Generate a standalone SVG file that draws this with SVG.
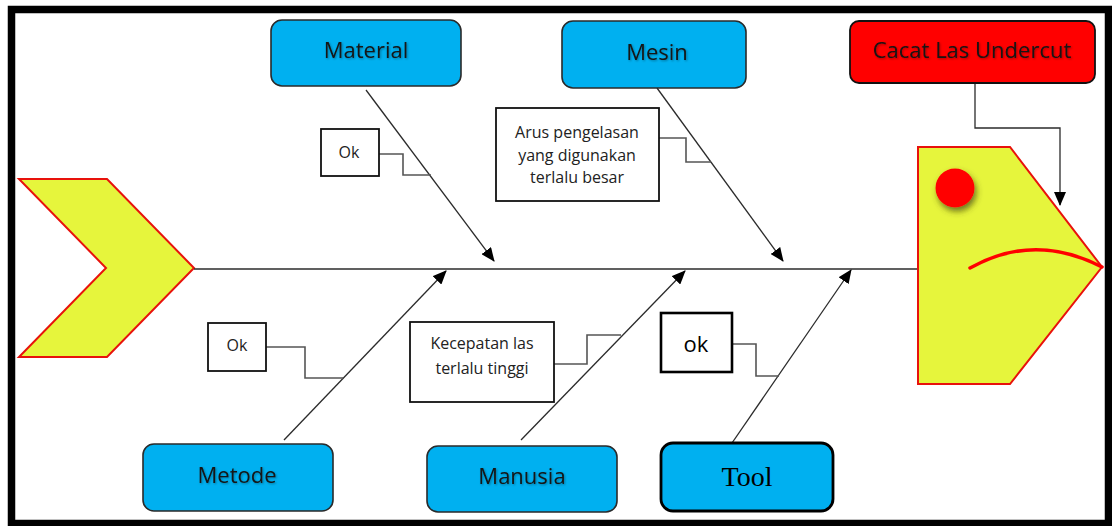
<svg xmlns="http://www.w3.org/2000/svg" width="1112" height="526" viewBox="0 0 1112 526">
  <style>
    .cat { fill: #00B0F0; stroke: #2a2a2a; stroke-width: 1.6; }
    .lbl { font-family: "Open Sans", "Noto Sans", sans-serif; font-size: 22px; fill: #141414; text-anchor: middle; }
    .note { fill: #ffffff; stroke: #111111; stroke-width: 1.8; }
    .ntx { font-family: "Open Sans", "Noto Sans", sans-serif; font-size: 16px; fill: #222222; text-anchor: middle; }
    .bone { fill: none; stroke: #2b2b2b; stroke-width: 1.3; }
    .tie { fill: none; stroke: #555555; stroke-width: 1.6; }
    .fish { fill: #E6F53C; stroke: #E8120C; stroke-width: 2; stroke-linejoin: miter; }
  </style>
  <defs>
    <marker id="arrow" markerUnits="userSpaceOnUse" markerWidth="14" markerHeight="12" refX="13" refY="6" orient="auto">
      <path d="M0,0 L14,6 L0,12 Z" fill="#000000"/>
    </marker>
    <filter id="soft" x="-20%" y="-20%" width="140%" height="160%">
      <feDropShadow dx="1" dy="1" stdDeviation="0.8" flood-color="#000000" flood-opacity="0.35"/>
    </filter>
    <filter id="eyeShade" x="-60%" y="-60%" width="220%" height="220%">
      <feDropShadow dx="2" dy="4" stdDeviation="3" flood-color="#3a3a10" flood-opacity="0.7"/>
    </filter>
  </defs>

  <rect width="1112" height="526" fill="#ffffff"/>
  <!-- frame -->
  <rect x="11.5" y="9.5" width="1097" height="514" fill="none" stroke="#000000" stroke-width="7.5"/>

  <!-- tail -->
  <g id="tail">
    <polygon class="fish" points="19,179 107,179 194,268 107,357 19,357 106,268"/>
  </g>

  <!-- connectors -->
  <g id="connectors">
    <line class="bone" x1="194" y1="269" x2="918" y2="269"/>
    <line class="bone" x1="366" y1="90" x2="494" y2="261" marker-end="url(#arrow)"/>
    <line class="bone" x1="657" y1="88" x2="783" y2="261" marker-end="url(#arrow)"/>
    <line class="bone" x1="284" y1="440" x2="446" y2="271" marker-end="url(#arrow)"/>
    <line class="bone" x1="521" y1="440" x2="685" y2="271" marker-end="url(#arrow)"/>
    <line class="bone" x1="732" y1="443" x2="851" y2="270" marker-end="url(#arrow)"/>
    <polyline class="bone" points="975,83 975,128 1060,128 1060,205" marker-end="url(#arrow)"/>
    <polyline class="tie" points="379,154 403,154 403,175 431,175"/>
    <polyline class="tie" points="659,138 686,138 686,162 711,162"/>
    <polyline class="tie" points="266,347 305,347 305,378 343,378"/>
    <polyline class="tie" points="554,364 587,364 587,335 621,335"/>
    <polyline class="tie" points="732,344 756,344 756,376 779,376"/>
  </g>

  <!-- head -->
  <g id="head">
    <polygon class="fish" points="918,147 1010,147 1102,267 1010,384 918,384"/>
    <circle cx="955" cy="188" r="19.5" fill="#FF0000" filter="url(#eyeShade)"/>
    <path d="M970,268 Q1034,232 1102,267" fill="none" stroke="#FF0000" stroke-width="3.5" stroke-linecap="round"/>
  </g>

  <g id="effect">
    <rect x="850" y="21" width="245" height="62" rx="9" fill="#FF0000" stroke="#111111" stroke-width="1.8"/>
    <text x="972" y="58" class="lbl" filter="url(#soft)">Cacat Las Undercut</text>
  </g>

  <g id="material">
    <rect class="cat" x="271" y="20" width="190" height="66" rx="11"/>
    <text x="366" y="58" class="lbl" filter="url(#soft)">Material</text>
  </g>
  <g id="mesin">
    <rect class="cat" x="562" y="21" width="184" height="67" rx="11"/>
    <text x="657" y="60" class="lbl" filter="url(#soft)">Mesin</text>
  </g>
  <g id="metode">
    <rect class="cat" x="143" y="444" width="190" height="67" rx="11"/>
    <text x="237" y="483" class="lbl" filter="url(#soft)">Metode</text>
  </g>
  <g id="manusia">
    <rect class="cat" x="427" y="446" width="190" height="66" rx="11"/>
    <text x="522" y="484" class="lbl" filter="url(#soft)">Manusia</text>
  </g>
  <g id="tool">
    <rect x="661" y="443" width="172" height="68" rx="12" fill="#00B0F0" stroke="#000000" stroke-width="2.8"/>
    <text x="747" y="486" font-family="'Liberation Serif', 'Times New Roman', serif" font-size="28" fill="#000000" text-anchor="middle">Tool</text>
  </g>

  <g id="note-material">
    <rect class="note" x="321" y="129" width="58" height="47"/>
    <text x="349" y="158" class="ntx">Ok</text>
  </g>
  <g id="note-mesin">
    <rect class="note" x="496" y="108" width="163" height="93"/>
    <text x="577" y="138" class="ntx">Arus pengelasan</text>
    <text x="577" y="161" class="ntx">yang digunakan</text>
    <text x="577" y="183" class="ntx">terlalu besar</text>
  </g>
  <g id="note-metode">
    <rect class="note" x="208" y="323" width="58" height="48"/>
    <text x="237" y="351" class="ntx">Ok</text>
  </g>
  <g id="note-manusia">
    <rect class="note" x="410" y="322" width="144" height="80"/>
    <text x="482" y="349" class="ntx">Kecepatan las</text>
    <text x="482" y="374" class="ntx">terlalu tinggi</text>
  </g>
  <g id="note-tool">
    <rect x="661" y="313" width="71" height="59" fill="#ffffff" stroke="#000000" stroke-width="2.6"/>
    <text x="696" y="352" font-family="'Open Sans', 'Noto Sans', sans-serif" font-size="22" fill="#000000" text-anchor="middle">ok</text>
  </g>
</svg>
